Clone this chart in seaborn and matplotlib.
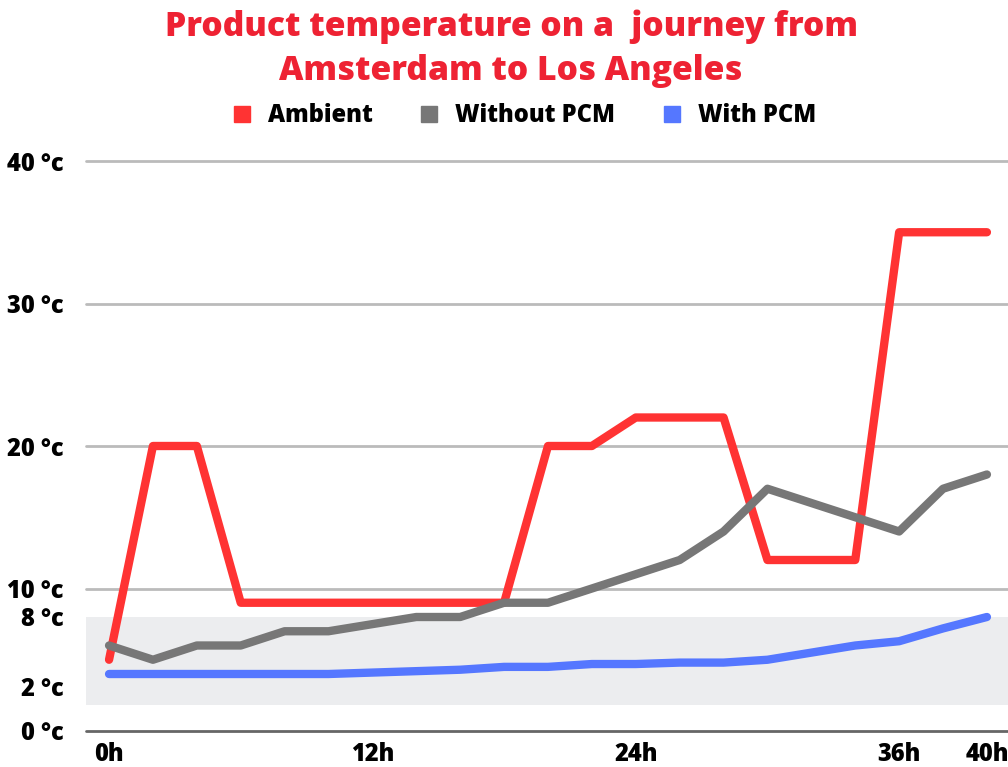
import numpy as np
import pandas as pd
import matplotlib
matplotlib.use("Agg")
import matplotlib.pyplot as plt
from matplotlib.lines import Line2D
import seaborn as sns

# Data (one point every 2 hours)
HOURS = list(range(0, 41, 2))
AMBIENT = [5, 20, 20, 9, 9, 9, 9, 9, 9, 9, 20, 20, 22, 22, 22, 12, 12, 12, 35, 35, 35]
WITHOUT_PCM = [6, 5, 6, 6, 7, 7, 7.5, 8, 8, 9, 9, 10, 11, 12, 14, 17, 16, 15, 14, 17, 18]
WITH_PCM = [4, 4, 4, 4, 4, 4, 4.1, 4.2, 4.3, 4.5, 4.5, 4.7, 4.7, 4.8, 4.8, 5.0, 5.5, 6.0, 6.3, 7.2, 8]

SERIES = ["Ambient", "Without PCM", "With PCM"]
COLORS = ["#ff3333", "#777777", "#5577ff"]

SAFE_BAND = (1.8, 8)
Y_TICKS = [0, 3.1, 8, 10, 20, 30, 40]
Y_LABELS = ["0 °c", "2 °c", "8 °c", "10 °c", "20 °c", "30 °c", "40 °c"]
X_TICKS = [0, 12, 24, 36, 40]
X_LABELS = ["0h", "12h", "24h", "36h", "40h"]

df = pd.DataFrame({
    "hour": HOURS * 3,
    "temp": AMBIENT + WITHOUT_PCM + WITH_PCM,
    "series": [s for s in SERIES for _ in HOURS],
})

sns.set_style("white")
plt.rcParams["font.family"] = ["Open Sans", "DejaVu Sans"]
plt.rcParams["text.color"] = "black"

fig = plt.figure(figsize=(10.08, 7.67), dpi=100)
ax = fig.add_axes([86 / 1008, 36 / 767, 1 - 86 / 1008, 570 / 767])

# grey "safe" band and gridlines
ax.axhspan(*SAFE_BAND, color="#ecedef", zorder=0, lw=0)
for y in [10, 20, 30, 40]:
    ax.axhline(y, color="#bbbbbb", lw=2, zorder=1)
ax.axhline(0, color="#666666", lw=2, zorder=1, clip_on=False)

sns.lineplot(data=df, x="hour", y="temp", hue="series", hue_order=SERIES,
             palette=COLORS, lw=6, legend=False, ax=ax, zorder=3)
for ln in ax.lines:
    ln.set_solid_capstyle("round")
    ln.set_solid_joinstyle("round")
    ln.set_clip_on(False)

ax.set_xlim(-1.05, 40.96)
ax.set_ylim(0, 40)
ax.set_xticks(X_TICKS)
ax.set_xticklabels(X_LABELS)
ax.set_yticks(Y_TICKS)
ax.set_yticklabels(Y_LABELS)
ax.tick_params(axis="both", length=0, labelsize=17, labelcolor="black")
ax.tick_params(axis="y", pad=16)
ax.tick_params(axis="x", pad=8)
for lab in ax.get_xticklabels() + ax.get_yticklabels():
    lab.set_fontweight("heavy")
ax.set_xlabel("")
ax.set_ylabel("")
sns.despine(ax=ax, left=True, bottom=True)

fig.text(0.507, 0.988, "Product temperature on a  journey from\nAmsterdam to Los Angeles",
         ha="center", va="top", color="#ee2233", fontsize=24.2, fontweight="heavy",
         linespacing=1.38)

handles = [Line2D([], [], marker="s", color=c, linestyle="", markersize=11) for c in COLORS]
fig.legend(handles, SERIES, loc="center", bbox_to_anchor=(0.513, 0.849), ncol=3,
           frameon=False, prop={"size": 17, "weight": "heavy"},
           handletextpad=0.1, columnspacing=1.4)

fig.savefig("out.png", dpi=100)
